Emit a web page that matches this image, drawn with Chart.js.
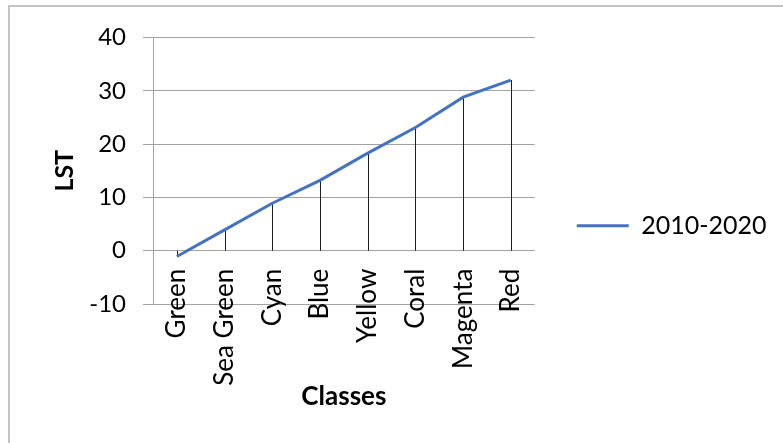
<!DOCTYPE html>
<html>
<head>
<meta charset="utf-8">
<title>LST by class</title>
<script src="https://cdn.jsdelivr.net/npm/chart.js@4.4.0/dist/chart.umd.min.js"></script>
<style>
  html, body { margin: 0; padding: 0; background: #fff; overflow: hidden; }
  #wrap { position: relative; width: 783px; height: 443px; }
  #frame {
    position: absolute; left: 8px; top: 5px; width: 820px; height: 480px;
    border: 2px solid #c4c4c4; box-sizing: border-box;
  }
  canvas { position: absolute; left: 0; top: 0; }
</style>
</head>
<body>
<div id="wrap">
  <div id="frame"></div>
  <canvas id="lstChart" width="783" height="443"></canvas>
</div>
<script>
// land surface temperature per class, 2010-2020
const classes = ["Green", "Sea Green", "Cyan", "Blue", "Yellow", "Coral", "Magenta", "Red"];
const lstValues = [-1.1, 3.9, 8.9, 13.2, 18.3, 23.1, 28.8, 32.0];
const seriesName = "2010-2020";
const yTicks = [-10, 0, 10, 20, 30, 40];

const FONT = "Lato";
const gridGrey = "#a3a3a3";
const pad = { top: 37.5, right: 70, bottom: 139, left: 0 };
const plotLeft = 153;
const xAxisBoxHeight = 162;
const legendShiftX = 38;
const legendShiftY = 55;

// thin vertical lines from each point down to the zero line
const dropLines = {
  id: "dropLines",
  beforeDatasetsDraw(chart) {
    const ctx = chart.ctx;
    const base = chart.scales.y.getPixelForValue(0);
    const meta = chart.getDatasetMeta(0);
    ctx.save();
    ctx.strokeStyle = "#1e1e1e";
    ctx.lineWidth = 1;
    meta.data.forEach(pt => {
      const x = Math.round(pt.x) + 0.5;
      ctx.beginPath();
      ctx.moveTo(x, base);
      ctx.lineTo(x, pt.y);
      ctx.stroke();
    });
    ctx.restore();
  }
};

// push the legend away from the plot, and let it use the space up to the edge
const legendNudge = {
  id: "legendNudge",
  afterLayout(chart) {
    const lg = chart.legend;
    lg.left += legendShiftX;
    lg.right = chart.width;
    lg.width = lg.right - lg.left;
    lg.top += legendShiftY;
    lg.bottom += legendShiftY;
  }
};

const ctx = document.getElementById("lstChart").getContext("2d");
const chart = new Chart(ctx, {
  type: "line",
  data: {
    labels: classes,
    datasets: [
      {
        label: seriesName,
        data: lstValues,
        borderColor: "#4472C4",
        backgroundColor: "#4472C4",
        borderWidth: 3,
        pointRadius: 0,
        tension: 0,
        fill: false
      }
    ]
  },
  options: {
    responsive: false,
    animation: false,
    layout: { padding: pad },
    scales: {
      x: {
        type: "category",
        // category labels hang just under the zero line
        position: { y: 0 },
        offset: true,
        grid: { display: false, drawTicks: false },
        border: { display: false },
        ticks: {
          autoSkip: false,
          maxRotation: 90,
          minRotation: 90,
          padding: 18,
          color: "#000",
          font: { family: FONT, size: 26 }
        },
        title: {
          display: true,
          text: "Classes",
          color: "#000",
          font: { family: FONT, size: 26, weight: "bold" },
          padding: 0
        },
        afterFit(scale) {
          scale.height = xAxisBoxHeight;
        }
      },
      y: {
        min: -10,
        max: 40,
        afterBuildTicks(scale) {
          scale.ticks = yTicks.map(v => ({ value: v }));
        },
        ticks: {
          padding: 17,
          color: "#000",
          font: { family: FONT, size: 24 }
        },
        grid: { color: gridGrey, lineWidth: 1, tickLength: 10 },
        border: { display: true, color: gridGrey },
        title: {
          display: true,
          text: "LST",
          color: "#000",
          font: { family: FONT, size: 25, weight: "bold" },
          padding: { top: 50, bottom: 0 }
        },
        afterFit(scale) {
          scale.width = plotLeft - pad.left;
        }
      }
    },
    plugins: {
      legend: {
        position: "right",
        labels: {
          usePointStyle: true,
          pointStyle: "line",
          pointStyleWidth: 52,
          padding: 4,
          color: "#000",
          font: { family: FONT, size: 25 }
        }
      },
      tooltip: { enabled: false }
    }
  },
  plugins: [dropLines, legendNudge]
});
</script>
</body>
</html>
